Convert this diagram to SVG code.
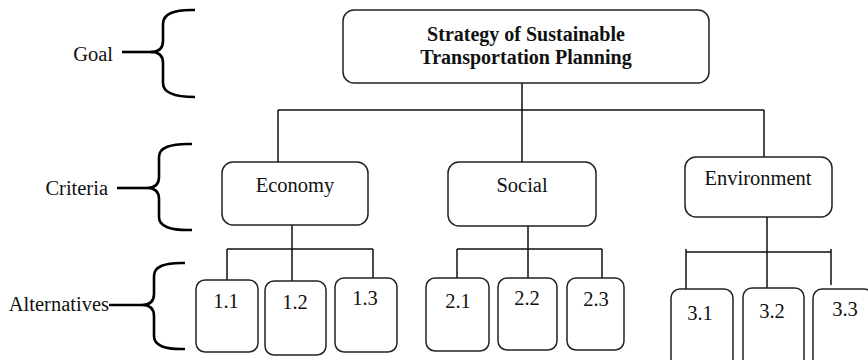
<svg xmlns="http://www.w3.org/2000/svg" width="868" height="360" viewBox="0 0 868 360">
<style>
.box{fill:#fff;stroke:#222;stroke-width:1.5}
.ln{fill:none;stroke:#111;stroke-width:1.5}
.br{fill:none;stroke:#000;stroke-width:2.6;stroke-linejoin:round}
.t{font-family:"Liberation Serif","Times New Roman",serif;font-size:20.5px;fill:#111;text-anchor:middle}
.lbl{font-family:"Liberation Serif","Times New Roman",serif;font-size:20.5px;fill:#111;text-anchor:end}
.b{font-weight:bold;font-size:20px}
</style>
<rect width="868" height="360" fill="#fff"/>
<g id="connectors">
<path class="ln" d="M522,83 V110 M278,110 H764 M278,110 V162 M522,110 V162 M764,110 V157"/>
<path class="ln" d="M292,225 V249 M227,249 H373 M227,249 V280 M292,249 V281 M373,249 V278"/>
<path class="ln" d="M528,226 V249 M457,249 H602 M457,249 V278 M528,249 V278 M602,249 V278"/>
<path class="ln" d="M767,217 V252 M686,252 H831 M686,249 V289 M767,252 V288 M831,249 V285"/>
</g>
<g id="brace-goal">
<text class="lbl" x="113" y="61">Goal</text>
<path class="br" d="M122,52 H152"/>
<path class="br" d="M195,10 Q163,9 163,24 V41 Q163,52 151,52 Q163,52 163,63 V83 Q163,97 195,97"/>
</g>
<g id="brace-criteria">
<text class="lbl" x="108" y="195">Criteria</text>
<path class="br" d="M117,188 H147"/>
<path class="br" d="M192,144 Q159,143 159,157 V177 Q159,188 147,188 Q159,188 159,199 V217 Q159,231 192,230"/>
</g>
<g id="brace-alternatives">
<text class="lbl" x="109" y="311">Alternatives</text>
<path class="br" d="M109,305 H142"/>
<path class="br" d="M185,263 Q154,262 154,276 V294 Q154,305 142,305 Q154,305 154,316 V336 Q154,350 185,349"/>
</g>
<g id="goal">
<rect class="box" x="343" y="10" width="366" height="73" rx="11"/>
<text class="t b" x="526" y="41">Strategy of Sustainable</text>
<text class="t b" x="526" y="64">Transportation Planning</text>
</g>
<g id="economy">
<rect class="box" x="222" y="162" width="146" height="63" rx="11"/>
<text class="t" x="295" y="192">Economy</text>
</g>
<g id="social">
<rect class="box" x="448" y="162" width="148" height="64" rx="11"/>
<text class="t" x="522" y="192">Social</text>
</g>
<g id="environment">
<rect class="box" x="685" y="157" width="147" height="60" rx="11"/>
<text class="t" x="758" y="185">Environment</text>
</g>
<g id="a11"><rect class="box" x="196" y="280" width="62" height="72" rx="9"/><text class="t" x="226" y="308">1.1</text></g>
<g id="a12"><rect class="box" x="265" y="281" width="61" height="74" rx="9"/><text class="t" x="295" y="309">1.2</text></g>
<g id="a13"><rect class="box" x="335" y="278" width="62" height="74" rx="9"/><text class="t" x="365" y="305">1.3</text></g>
<g id="a21"><rect class="box" x="426" y="278" width="63" height="73" rx="9"/><text class="t" x="458" y="308">2.1</text></g>
<g id="a22"><rect class="box" x="498" y="278" width="59" height="72" rx="9"/><text class="t" x="527" y="305">2.2</text></g>
<g id="a23"><rect class="box" x="567" y="278" width="57" height="72" rx="9"/><text class="t" x="596" y="306">2.3</text></g>
<g id="a31"><rect class="box" x="671" y="289" width="62" height="85" rx="9"/><text class="t" x="700" y="320">3.1</text></g>
<g id="a32"><rect class="box" x="743" y="288" width="61" height="86" rx="9"/><text class="t" x="772" y="318">3.2</text></g>
<g id="a33"><rect class="box" x="813" y="289" width="60" height="85" rx="9"/><text class="t" x="845" y="316">3.3</text></g>
</svg>
